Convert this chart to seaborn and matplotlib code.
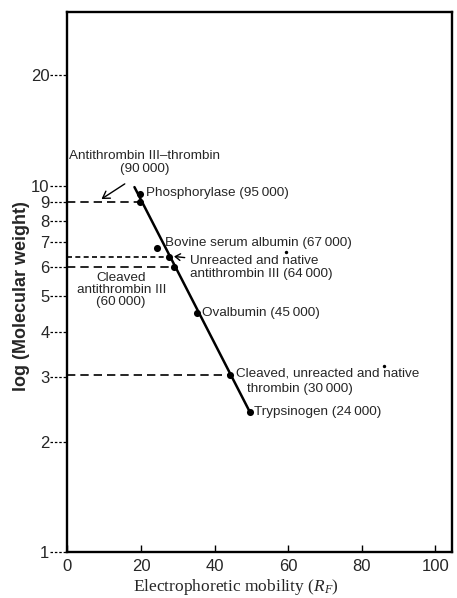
import matplotlib
matplotlib.use("Agg")
import matplotlib.pyplot as plt
import matplotlib.transforms as mtrans
from matplotlib.ticker import NullLocator
import seaborn as sns

# relative mobility (%) and molecular weight (x 10^4) of the marker proteins
rf = [19.6, 19.6, 24.3, 27.5, 28.9, 35.1, 44.1, 49.6]
mw = [9.5, 9.0, 6.75, 6.4, 6.0, 4.5, 3.05, 2.41]

# straight calibration line
line_rf = [18.2, 49.6]
line_mw = [9.9, 2.41]

# read-off lines: (molecular weight, mobility where the line meets the curve)
read_mw = [9.0, 6.4, 6.0, 3.05]
read_rf = [19.6, 27.5, 28.9, 44.1]

# two small specks on the original print
speck_rf = [59.5, 86.0]
speck_mw = [6.6, 3.22]

yticks = [1, 2, 3, 4, 5, 6, 7, 8, 9, 10, 20]
xticks = [0, 20, 40, 60, 80, 100]

sns.set_theme(style="white")
plt.rcParams["font.family"] = ["Liberation Sans", "DejaVu Sans"]
plt.rcParams["mathtext.fontset"] = "custom"
plt.rcParams["mathtext.rm"] = "Liberation Serif"
plt.rcParams["mathtext.it"] = "Liberation Serif:italic"

fig = plt.figure(figsize=(4.57, 5.98), dpi=100)
ax = fig.add_axes([0.1477, 0.0761, 0.8414, 0.9038])
ax.set_yscale("log")

sns.lineplot(x=line_rf, y=line_mw, ax=ax, color="black", linewidth=1.8,
             sort=False, estimator=None)
sns.scatterplot(x=rf, y=mw, ax=ax, color="black", s=26, linewidth=0, zorder=4)
sns.scatterplot(x=speck_rf, y=speck_mw, ax=ax, color="black", s=6, linewidth=0)

for y, x in zip(read_mw, read_rf):
    ls = (0, (3, 2)) if y == 6.4 else (0, (5, 3))
    ax.hlines(y, 0, x, colors="black", linestyles=ls, linewidth=1.2)

ax.set_xlim(0, 104.5)
ax.set_ylim(1, 29.7)
ax.set_xticks(xticks, [str(t) for t in xticks])
ax.set_yticks(yticks, [str(t) for t in yticks])
ax.yaxis.set_minor_locator(NullLocator())
ax.tick_params(axis="x", direction="in", length=5, width=1, labelsize=12,
               pad=5, color="black", bottom=True)
ax.tick_params(axis="y", length=0, labelsize=12, pad=13, left=True)

# dashed leaders in front of the y tick labels
trans = mtrans.blended_transform_factory(ax.transAxes, ax.transData)
for t in yticks:
    ax.plot([-0.045, 0], [t, t], transform=trans, color="black",
            linestyle=(0, (2, 1.5)), linewidth=0.9, clip_on=False)

for s in ax.spines.values():
    s.set_color("black")
    s.set_linewidth(1.7)

ax.set_ylabel("log (Molecular weight)", fontsize=13, fontweight="bold")
ax.yaxis.set_label_coords(-0.097, 0.475)
ax.set_xlabel(r"Electrophoretic mobility $(R_F)$", fontsize=12.5,
              family="Liberation Serif")
ax.xaxis.set_label_coords(0.438, -0.046)

fs = 9.7
ax.text(20.9, 11.55, "Antithrombin III\u2013thrombin\n(90\u2009000)", fontsize=fs,
        ha="center", va="center", multialignment="center", linespacing=1.05)
ax.annotate("", xy=(8.6, 9.1), xytext=(16.2, 10.2),
            arrowprops=dict(arrowstyle="->,head_length=0.4,head_width=0.25",
                            color="black", lw=1))
ax.text(21.2, 9.54, "Phosphorylase (95\u2009000)", fontsize=fs, va="center")
ax.text(26.6, 6.97, "Bovine serum albumin (67\u2009000)", fontsize=fs, va="center")
ax.text(33.4, 5.98, "Unreacted and native\nantithrombin III (64\u2009000)",
        fontsize=fs, va="center", linespacing=1.05)
ax.annotate("", xy=(28.2, 6.42), xytext=(32.6, 6.35),
            arrowprops=dict(arrowstyle="->,head_length=0.3,head_width=0.2",
                            color="black", lw=1))
ax.text(14.6, 5.19, "Cleaved\nantithrombin III\n(60\u2009000)", fontsize=fs,
        ha="center", va="center", multialignment="center", linespacing=1.0)
ax.text(36.6, 4.49, "Ovalbumin (45\u2009000)", fontsize=fs, va="center")
ax.text(45.9, 3.08, "Cleaved, unreacted and native", fontsize=fs, va="center")
ax.text(48.9, 2.79, "thrombin (30\u2009000)", fontsize=fs, va="center")
ax.text(50.8, 2.41, "Trypsinogen (24\u2009000)", fontsize=fs, va="center")

fig.savefig("out.png", dpi=100)
